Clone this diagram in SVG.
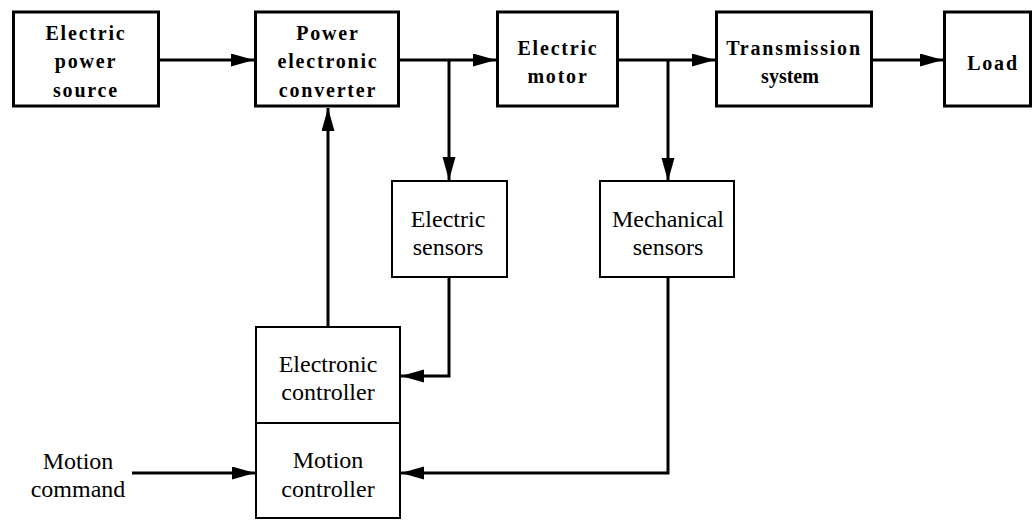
<svg xmlns="http://www.w3.org/2000/svg" width="1035" height="520" viewBox="0 0 1035 520">
<style>
.bb{fill:#fff;stroke:#000;stroke-width:3}
.tb{fill:#fff;stroke:#000;stroke-width:2}
.bt{font-family:Liberation Serif,serif;font-weight:bold;font-size:20px;letter-spacing:1.8px;text-anchor:middle;fill:#000}
.rt{font-family:Liberation Serif,serif;font-size:24px;text-anchor:middle;fill:#000}
.c{fill:none;stroke:#000;stroke-width:3}
</style>
<defs>
<marker id="ah" markerUnits="userSpaceOnUse" markerWidth="24" markerHeight="14" refX="23" refY="6.5" orient="auto">
<path d="M0,0 L23,6.5 L0,13 z" fill="#000"/>
</marker>
</defs>
<g id="connectors">
<line class="c" x1="160" y1="60" x2="254" y2="60" marker-end="url(#ah)"/>
<line class="c" x1="400" y1="60" x2="496" y2="60" marker-end="url(#ah)"/>
<line class="c" x1="619" y1="60" x2="715" y2="60" marker-end="url(#ah)"/>
<line class="c" x1="873" y1="60" x2="943" y2="60" marker-end="url(#ah)"/>
<line class="c" x1="449" y1="60" x2="449" y2="180" marker-end="url(#ah)"/>
<line class="c" x1="668" y1="60" x2="668" y2="181" marker-end="url(#ah)"/>
<line class="c" x1="328" y1="326" x2="328" y2="108" marker-end="url(#ah)"/>
<polyline class="c" points="449,278 449,376 401,376" marker-end="url(#ah)"/>
<polyline class="c" points="668,277 668,473 401,473" marker-end="url(#ah)"/>
<line class="c" x1="132" y1="473" x2="255" y2="473" marker-end="url(#ah)"/>
</g>
<g id="power-source">
<rect class="bb" x="13.5" y="12" width="145" height="94"/>
<text class="bt" x="86" y="40">Electric</text>
<text class="bt" x="86" y="68">power</text>
<text class="bt" x="86" y="97">source</text>
</g>
<g id="converter">
<rect class="bb" x="255.5" y="12" width="143" height="94"/>
<text class="bt" x="328" y="40">Power</text>
<text class="bt" x="328" y="68">electronic</text>
<text class="bt" x="328" y="97">converter</text>
</g>
<g id="motor">
<rect class="bb" x="497.5" y="12" width="120" height="94"/>
<text class="bt" x="558" y="55">Electric</text>
<text class="bt" x="558" y="83">motor</text>
</g>
<g id="transmission">
<rect class="bb" x="716.5" y="12" width="155" height="94"/>
<text class="bt" x="794" y="55">Transmission</text>
<text class="bt" x="790" y="83" style="letter-spacing:0">system</text>
</g>
<g id="load">
<rect class="bb" x="944.5" y="12" width="86" height="94"/>
<text class="bt" x="993" y="70">Load</text>
</g>
<g id="electric-sensors">
<rect class="tb" x="392" y="181" width="115" height="96"/>
<text class="rt" x="448" y="227">Electric</text>
<text class="rt" x="448" y="255">sensors</text>
</g>
<g id="mechanical-sensors">
<rect class="tb" x="600" y="181" width="134" height="96"/>
<text class="rt" x="668" y="227">Mechanical</text>
<text class="rt" x="668" y="255">sensors</text>
</g>
<g id="controller">
<rect class="tb" x="256" y="327" width="144" height="191"/>
<line x1="256" y1="423" x2="400" y2="423" stroke="#000" stroke-width="2"/>
<text class="rt" x="328" y="372">Electronic</text>
<text class="rt" x="328" y="400">controller</text>
<text class="rt" x="328" y="468">Motion</text>
<text class="rt" x="328" y="497">controller</text>
</g>
<g id="motion-command">
<text class="rt" x="78" y="469">Motion</text>
<text class="rt" x="78" y="497">command</text>
</g>
</svg>
